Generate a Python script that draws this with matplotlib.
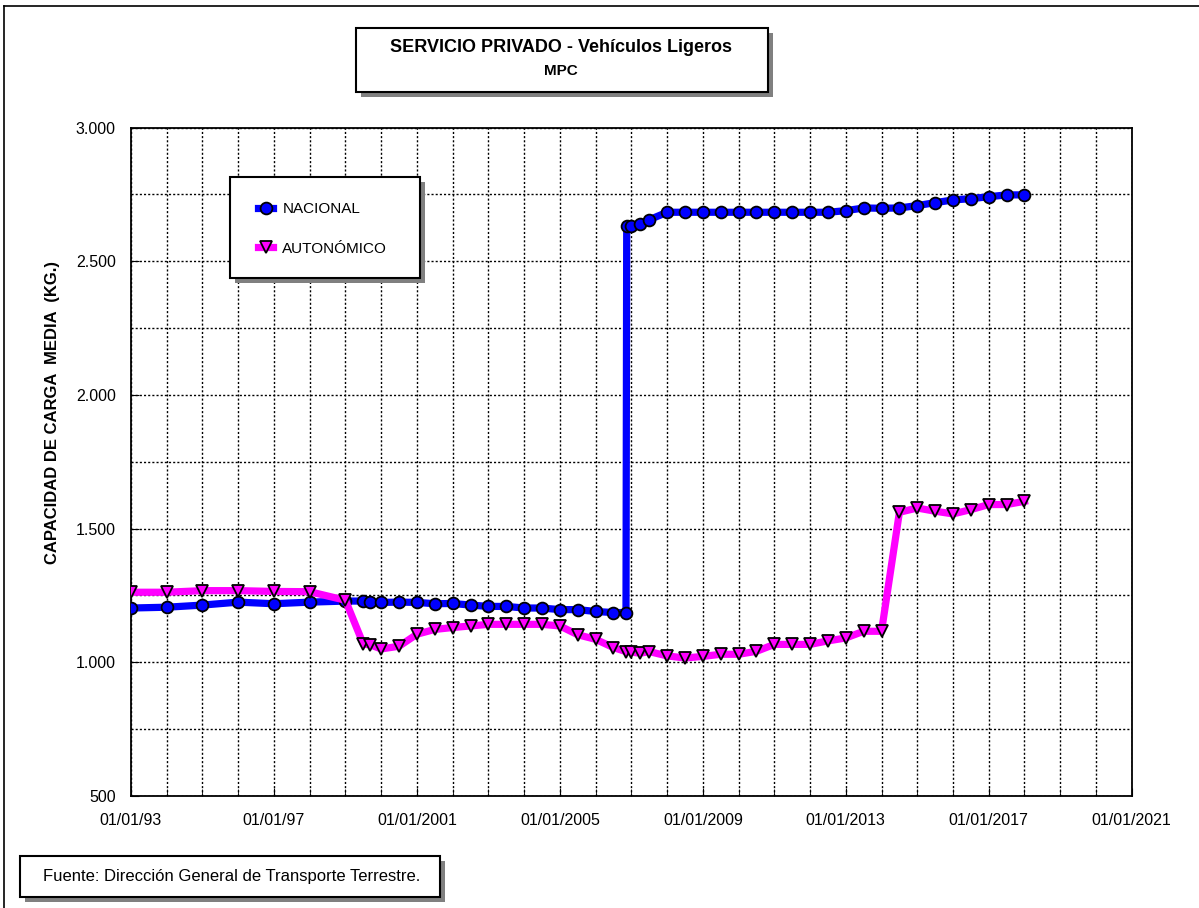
import matplotlib
matplotlib.use("Agg")
import matplotlib.pyplot as plt
from matplotlib.patches import Rectangle
from matplotlib.lines import Line2D
from matplotlib.ticker import MultipleLocator, FuncFormatter

plt.rcParams["font.family"] = ["Liberation Sans", "DejaVu Sans"]

W, H = 1199, 908

# === Datos (fechas en años decimales) ===
fechas_nac = [1993, 1994, 1995, 1996, 1997, 1998, 1999, 1999.5, 1999.7,
              2000.0, 2000.5, 2001.0, 2001.5, 2002.0, 2002.5, 2003.0, 2003.5,
              2004.0, 2004.5, 2005.0, 2005.5, 2006.0, 2006.5, 2006.85, 2006.87,
              2007.0, 2007.25, 2007.5, 2008.0, 2008.5, 2009.0, 2009.5, 2010.0,
              2010.5, 2011.0, 2011.5, 2012.0, 2012.5, 2013.0, 2013.5, 2014.0,
              2014.5, 2015.0, 2015.5, 2016.0, 2016.5, 2017.0, 2017.5, 2018.0]
nacional = [1203, 1206, 1214, 1225, 1219, 1225, 1229, 1229, 1224,
            1224, 1225, 1224, 1219, 1220, 1214, 1209, 1209,
            1203, 1203, 1197, 1197, 1190, 1186, 1186, 2630,
            2632, 2638, 2655, 2683, 2683, 2683, 2683, 2683,
            2683, 2683, 2683, 2683, 2683, 2689, 2699, 2698,
            2699, 2708, 2719, 2729, 2734, 2741, 2748, 2748]

fechas_aut = [1993, 1994, 1995, 1996, 1997, 1998, 1999, 1999.5, 1999.7,
              2000.0, 2000.5, 2001.0, 2001.5, 2002.0, 2002.5, 2003.0, 2003.5,
              2004.0, 2004.5, 2005.0, 2005.5, 2006.0, 2006.5, 2006.85,
              2007.0, 2007.25, 2007.5, 2008.0, 2008.5, 2009.0, 2009.5, 2010.0,
              2010.5, 2011.0, 2011.5, 2012.0, 2012.5, 2013.0, 2013.5, 2014.0,
              2014.5, 2015.0, 2015.5, 2016.0, 2016.5, 2017.0, 2017.5, 2018.0]
autonomico = [1262, 1262, 1268, 1268, 1265, 1264, 1232, 1068, 1065,
              1050, 1060, 1105, 1123, 1130, 1136, 1142, 1142,
              1142, 1142, 1136, 1103, 1086, 1055, 1040,
              1038, 1034, 1040, 1024, 1016, 1022, 1030, 1030,
              1041, 1067, 1067, 1067, 1080, 1091, 1116, 1116,
              1561, 1577, 1565, 1555, 1571, 1590, 1590, 1602]

x_ticks = [1993, 1997, 2001, 2005, 2009, 2013, 2017, 2021]
x_labels = ["01/01/93", "01/01/97", "01/01/2001", "01/01/2005",
            "01/01/2009", "01/01/2013", "01/01/2017", "01/01/2021"]


def caja(x0, y0, x1, y1, sombra=5):
    # caja blanca con sombra gris, coordenadas en píxeles de la figura
    fig.add_artist(Rectangle(((x0 + sombra) / W, 1 - (y1 + sombra) / H),
                             (x1 - x0) / W, (y1 - y0) / H,
                             transform=fig.transFigure, facecolor="#808080",
                             edgecolor="none", zorder=5))
    fig.add_artist(Rectangle((x0 / W, 1 - y1 / H), (x1 - x0) / W, (y1 - y0) / H,
                             transform=fig.transFigure, facecolor="white",
                             edgecolor="black", linewidth=1.5, zorder=6))


fig = plt.figure(figsize=(W / 100, H / 100), dpi=100)
ax = fig.add_axes([131 / W, 1 - 796 / H, (1131.7 - 131) / W, (796 - 127.5) / H])

ax.plot(fechas_nac, nacional, color="#0000ff", linewidth=5.2, marker="o",
        markersize=8.5, markerfacecolor="#0000ff", markeredgecolor="black",
        markeredgewidth=1.3, label="NACIONAL", zorder=3)
ax.plot(fechas_aut, autonomico, color="#ff00ff", linewidth=5.2, marker="v",
        markersize=9, markerfacecolor="#ff00ff", markeredgecolor="black",
        markeredgewidth=1.3, label="AUTONÓMICO", zorder=4)

ax.set_xlim(1993, 2021)
ax.set_ylim(500, 3000)
ax.set_xticks(x_ticks)
ax.set_xticklabels(x_labels)
ax.xaxis.set_minor_locator(MultipleLocator(1))
ax.yaxis.set_major_locator(MultipleLocator(500))
ax.yaxis.set_minor_locator(MultipleLocator(250))
ax.yaxis.set_major_formatter(FuncFormatter(lambda v, p: f"{int(v):,}".replace(",", ".")))

ax.set_axisbelow(True)
ax.grid(which="both", color="black", linestyle=(0, (1.5, 1.5)), linewidth=1.0)
for s in ax.spines.values():
    s.set_linewidth(1.3)
ax.tick_params(axis="both", which="both", direction="in", labelsize=11.5)
ax.tick_params(axis="x", which="major", length=6, pad=12)
ax.tick_params(axis="x", which="minor", length=5)
ax.tick_params(axis="y", which="major", length=6, pad=11)
ax.tick_params(axis="y", which="minor", length=0)

ax.set_ylabel("CAPACIDAD DE CARGA  MEDIA  (KG.)", fontsize=12, fontweight="bold")
ax.yaxis.set_label_coords(-0.071, 0.574)

# título
caja(356, 28, 768, 92)
fig.text(561 / W, 1 - 48 / H, "SERVICIO PRIVADO - Vehículos Ligeros",
         ha="center", va="center", fontsize=13, fontweight="bold", zorder=7)
fig.text(561 / W, 1 - 71 / H, "MPC", ha="center", va="center",
         fontsize=11, fontweight="bold", zorder=7)

# leyenda
caja(230, 177, 420, 278)
leg = fig.legend(loc="center left", bbox_to_anchor=(258 / W, 1 - 229 / H),
                 frameon=False, fontsize=11, handlelength=1.0, handletextpad=0.6,
                 labelspacing=1.65, borderpad=0, borderaxespad=0, numpoints=1)
leg.set_zorder(7)

# fuente
caja(20, 856, 440, 897)
fig.text(232 / W, 1 - 877 / H, "Fuente: Dirección General de Transporte Terrestre.",
         ha="center", va="center", fontsize=12, zorder=7)

# marco exterior
fig.add_artist(Line2D([3.5 / W, 3.5 / W], [0, 1 - 5.5 / H], transform=fig.transFigure,
                      color="black", linewidth=1.2))
fig.add_artist(Line2D([3.5 / W, 1], [1 - 5.5 / H, 1 - 5.5 / H], transform=fig.transFigure,
                      color="black", linewidth=1.2))

fig.savefig("out.png", dpi=100)
